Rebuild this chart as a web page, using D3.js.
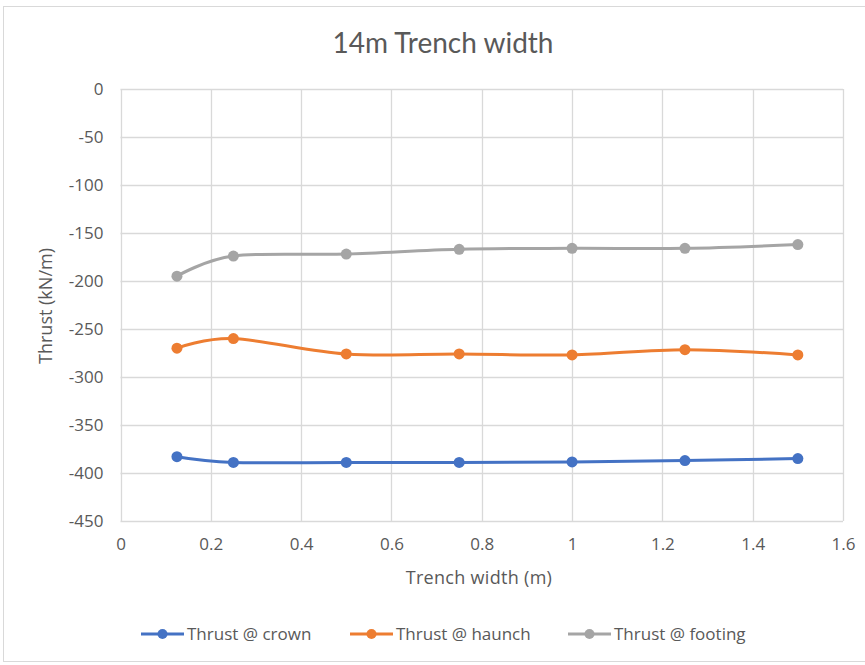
<!DOCTYPE html>
<html>
<head>
<meta charset="utf-8">
<script src="https://cdn.jsdelivr.net/npm/d3@7/dist/d3.min.js"></script>
<style>
  html, body { margin: 0; padding: 0; background: #ffffff; }
  svg { display: block; }
</style>
</head>
<body>
<svg id="chart" width="865" height="665"></svg>
<script>
// Trench width values (m)
const widths = [0.125, 0.25, 0.5, 0.75, 1.0, 1.25, 1.5];

// Thrust values (kN/m) for each location in the arch
const thrustCrown   = [-383, -389, -389, -389, -388.5, -387, -385];
const thrustHaunch  = [-270, -260, -276, -276, -277, -271.5, -277];
const thrustFooting = [-195, -174, -172, -167, -166, -166, -162];

const seriesNames  = ["Thrust @ crown", "Thrust @ haunch", "Thrust @ footing"];
const seriesColors = ["#4472C4", "#ED7D31", "#A5A5A5"];

const xTicks = [0, 0.2, 0.4, 0.6, 0.8, 1, 1.2, 1.4, 1.6];
const yTicks = [0, -50, -100, -150, -200, -250, -300, -350, -400, -450];

const titleText = "14m Trench width";
const xTitle = "Trench width (m)";
const yTitle = "Thrust (kN/m)";

const svg = d3.select("#chart");
const font = "'Open Sans', 'Segoe UI', sans-serif";
const textColor = "#595959";
const gridColor = "#d9d9d9";

// chart frame
svg.append("rect")
  .attr("x", 3.5).attr("y", 6.5)
  .attr("width", 870).attr("height", 655)
  .attr("fill", "#fff")
  .attr("stroke", "#d9d9d9").attr("stroke-width", 1);

const plot = { left: 120.5, right: 843, top: 89, bottom: 521 };

const x = d3.scaleLinear().domain([0, 1.6]).range([plot.left, plot.right]);
const y = d3.scaleLinear().domain([-450, 0]).range([plot.bottom, plot.top]);

// title
svg.append("text")
  .attr("x", 443).attr("y", 53)
  .attr("text-anchor", "middle")
  .attr("font-family", "Lato, 'Open Sans', sans-serif")
  .attr("font-size", 28)
  .attr("fill", textColor)
  .text(titleText);

// gridlines
const grid = svg.append("g");
grid.selectAll("line.h").data(yTicks).join("line")
  .attr("x1", plot.left).attr("x2", plot.right)
  .attr("y1", d => Math.round(y(d)) + 0.5).attr("y2", d => Math.round(y(d)) + 0.5)
  .attr("stroke", gridColor).attr("stroke-width", 1.3);
grid.selectAll("line.v").data(xTicks).join("line")
  .attr("y1", plot.top).attr("y2", plot.bottom)
  .attr("x1", d => Math.round(x(d)) + 0.5).attr("x2", d => Math.round(x(d)) + 0.5)
  .attr("stroke", gridColor).attr("stroke-width", 1.3);

// axes (labels only, lines drawn by the grid)
const yAxis = d3.axisLeft(y).tickValues(yTicks).tickSize(0).tickPadding(17).tickFormat(d => String(d));
const gy = svg.append("g").attr("transform", `translate(${plot.left},0)`).call(yAxis);
gy.select(".domain").remove();
gy.selectAll("text").attr("font-family", font).attr("font-size", 17).attr("fill", textColor);

const xAxis = d3.axisBottom(x).tickValues(xTicks).tickSize(0).tickPadding(17).tickFormat(d => String(d));
const gx = svg.append("g").attr("transform", `translate(0,${plot.bottom})`).call(xAxis);
gx.select(".domain").remove();
gx.selectAll("text").attr("font-family", font).attr("font-size", 17).attr("fill", textColor);

// axis titles
svg.append("text")
  .attr("x", 479).attr("y", 584)
  .attr("text-anchor", "middle")
  .attr("font-family", font).attr("font-size", 18).attr("letter-spacing", 0.3).attr("fill", textColor)
  .text(xTitle);
svg.append("text")
  .attr("transform", "translate(52,306) rotate(-90)")
  .attr("text-anchor", "middle")
  .attr("font-family", font).attr("font-size", 18).attr("fill", textColor)
  .text(yTitle);

// series
const allSeries = [thrustCrown, thrustHaunch, thrustFooting];
const line = d3.line()
  .x(d => x(d[0])).y(d => y(d[1]))
  .curve(d3.curveCardinal.tension(0));

allSeries.forEach((vals, i) => {
  const pts = widths.map((w, j) => [w, vals[j]]);
  const g = svg.append("g");
  g.append("path")
    .attr("d", line(pts))
    .attr("fill", "none")
    .attr("stroke", seriesColors[i])
    .attr("stroke-width", 3)
    .attr("stroke-linecap", "round");
  g.selectAll("circle").data(pts).join("circle")
    .attr("cx", d => x(d[0])).attr("cy", d => y(d[1]))
    .attr("r", 5.5)
    .attr("fill", seriesColors[i]);
});

// legend
const legendX = [141, 350, 568];
const legendY = 634;
seriesNames.forEach((name, i) => {
  const g = svg.append("g").attr("transform", `translate(${legendX[i]},${legendY})`);
  g.append("line").attr("x1", 0).attr("x2", 43).attr("y1", 0).attr("y2", 0)
    .attr("stroke", seriesColors[i]).attr("stroke-width", 3);
  g.append("circle").attr("cx", 21.5).attr("cy", 0).attr("r", 5).attr("fill", seriesColors[i]);
  g.append("text").attr("x", 46).attr("y", 6)
    .attr("font-family", font).attr("font-size", 17).attr("fill", textColor)
    .text(name);
});
</script>
</body>
</html>
